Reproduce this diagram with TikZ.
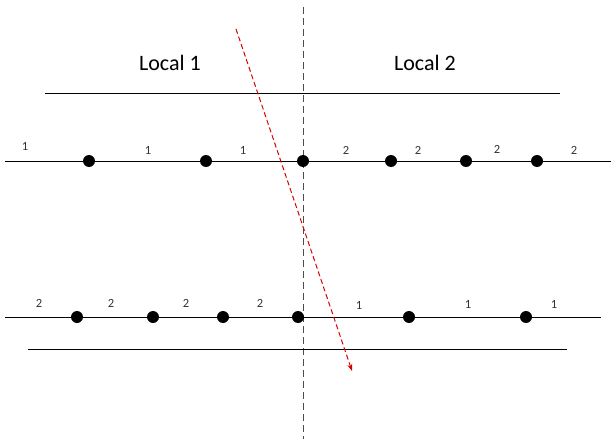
\documentclass[tikz,border=0pt]{standalone}
\usepackage{fontspec}
\setmainfont{Carlito}
\usetikzlibrary{arrows.meta}
\begin{document}
\begin{tikzpicture}[x=1pt,y=-1pt,
  track/.style={draw=black,line width=0.9pt},
  dot/.style={circle,fill=black,inner sep=0pt,minimum size=12pt},
  lbl/.style={font=\fontsize{12.5}{14}\selectfont,text=black!80,inner sep=1pt},
  title/.style={font=\fontsize{22}{25}\selectfont,inner sep=0pt}]
\useasboundingbox (0,0) rectangle (611,439);
% divider
\coordinate (dvt) at (303,7);
\coordinate (dvb) at (303,439);
\draw[black!70,dashed,line width=1pt,dash pattern=on 7pt off 4pt] (dvt) -- (dvb);
% titles
\node[title] (l1) at (170,63) {Local 1};
\node[title] (l2) at (425,63) {Local 2};
% horizontal lines
\coordinate (h1a) at (45,93); \coordinate (h1b) at (560,93);
\draw[track] (h1a) -- (h1b);
\coordinate (t1a) at (5,161); \coordinate (t1b) at (611,161);
\draw[track] (t1a) -- (t1b);
\coordinate (t2a) at (5,317); \coordinate (t2b) at (601,317);
\draw[track] (t2a) -- (t2b);
\coordinate (h2a) at (28,349); \coordinate (h2b) at (567,349);
\draw[track] (h2a) -- (h2b);
% top dots
\foreach \x [count=\i] in {89,206,303,391,466,537}
  \node[dot] (a\i) at (\x,161) {};
% bottom dots
\foreach \x [count=\i] in {77,153,223,298,409,526}
  \node[dot] (b\i) at (\x,317) {};
% top labels
\node[lbl] (ta1) at (25,146) {1};
\node[lbl] (ta2) at (148,150) {1};
\node[lbl] (ta3) at (243,150) {1};
\node[lbl] (ta4) at (346,150) {2};
\node[lbl] (ta5) at (418,150) {2};
\node[lbl] (ta6) at (497,149) {2};
\node[lbl] (ta7) at (574,150) {2};
% bottom labels
\node[lbl] (tb1) at (39,303) {2};
\node[lbl] (tb2) at (111,303) {2};
\node[lbl] (tb3) at (186,303) {2};
\node[lbl] (tb4) at (260,303) {2};
\node[lbl] (tb5) at (359,305) {1};
\node[lbl] (tb6) at (468,304) {1};
\node[lbl] (tb7) at (554,304) {1};
% red arrow
\coordinate (ra) at (236,29);
\coordinate (rb) at (352,371);
\draw[red!85!black,dashed,line width=1pt,dash pattern=on 5pt off 3pt,-{Stealth[length=7pt,width=5pt]}] (ra) -- (rb);
\end{tikzpicture}
\end{document}
